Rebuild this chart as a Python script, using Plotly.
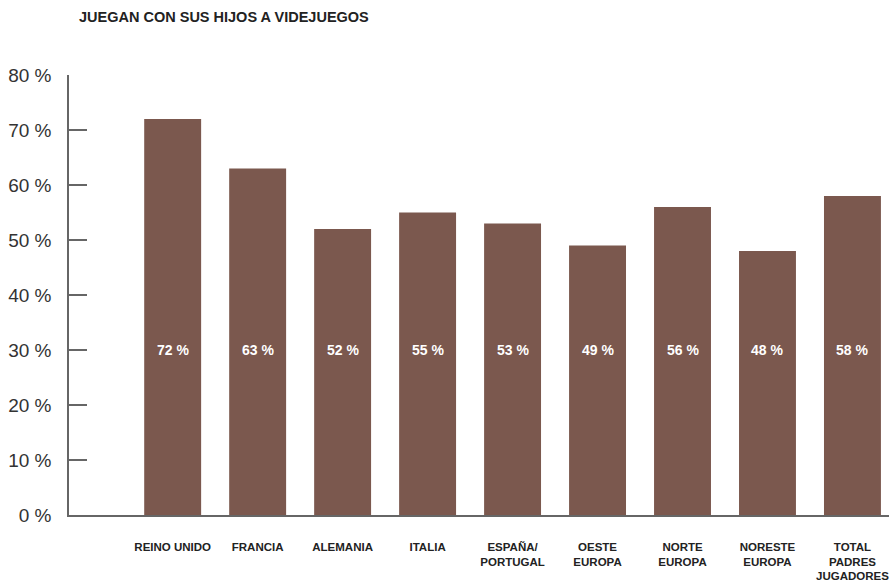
import plotly.graph_objects as go

# Share of gaming parents who play video games with their children
categories = ["REINO UNIDO", "FRANCIA", "ALEMANIA", "ITALIA", "ESPAÑA/<br>PORTUGAL",
              "OESTE<br>EUROPA", "NORTE<br>EUROPA", "NORESTE<br>EUROPA", "TOTAL<br>PADRES<br>JUGADORES"]
values = [72, 63, 52, 55, 53, 49, 56, 48, 58]
y_ticks = [0, 10, 20, 30, 40, 50, 60, 70, 80]
y_tick_labels = [f"{v} %" for v in y_ticks]
label_level = 30

bar_color = "#7b584e"
font_family = "Liberation Sans, Arial, sans-serif"

x_pos = list(range(len(categories)))

fig = go.Figure()
fig.add_trace(go.Bar(
    x=x_pos, y=values,
    marker=dict(color=bar_color, line=dict(width=0)),
    width=0.67,
    hoverinfo="skip",
))

# value labels drawn inside each bar at a fixed height
for xi, v in zip(x_pos, values):
    fig.add_annotation(x=xi, y=label_level, text=f"<b>{v} %</b>", showarrow=False,
                       font=dict(family=font_family, size=14, color="white"),
                       xanchor="center", yanchor="middle")

fig.add_annotation(xref="paper", yref="paper", x=(77 - 69) / 820, y=1 + (75 - 17) / 440,
                   text="<b>JUEGAN CON SUS HIJOS A VIDEJUEGOS</b>",
                   showarrow=False, font=dict(family=font_family, size=14.5, color="#222"),
                   xanchor="left", yanchor="middle")

fig.update_layout(
    width=889, height=582,
    margin=dict(l=69, r=0, t=75, b=67),
    plot_bgcolor="white", paper_bgcolor="white",
    showlegend=False,
    font=dict(family=font_family),
    xaxis=dict(
        tickvals=x_pos, ticktext=[f"<b>{c}</b>" for c in categories],
        range=[-1.22, 8.43],
        showline=True, linecolor="#666", linewidth=1.5,
        showgrid=False, zeroline=False, ticks="",
        tickfont=dict(family=font_family, size=11.5, color="#222"),
        ticklabelstandoff=20,
        ticklabeloverflow="allow",
        automargin=False,
    ),
    yaxis=dict(
        range=[0, 80], tickvals=y_ticks, ticktext=y_tick_labels,
        showline=True, linecolor="#666", linewidth=1.5,
        showgrid=False, zeroline=False,
        ticks="inside", ticklen=18, tickcolor="#666", tickwidth=1.5,
        tickfont=dict(family=font_family, size=19, color="#333"),
        ticklabelstandoff=12,
        automargin=False,
    ),
)

fig.write_html("out.html")
